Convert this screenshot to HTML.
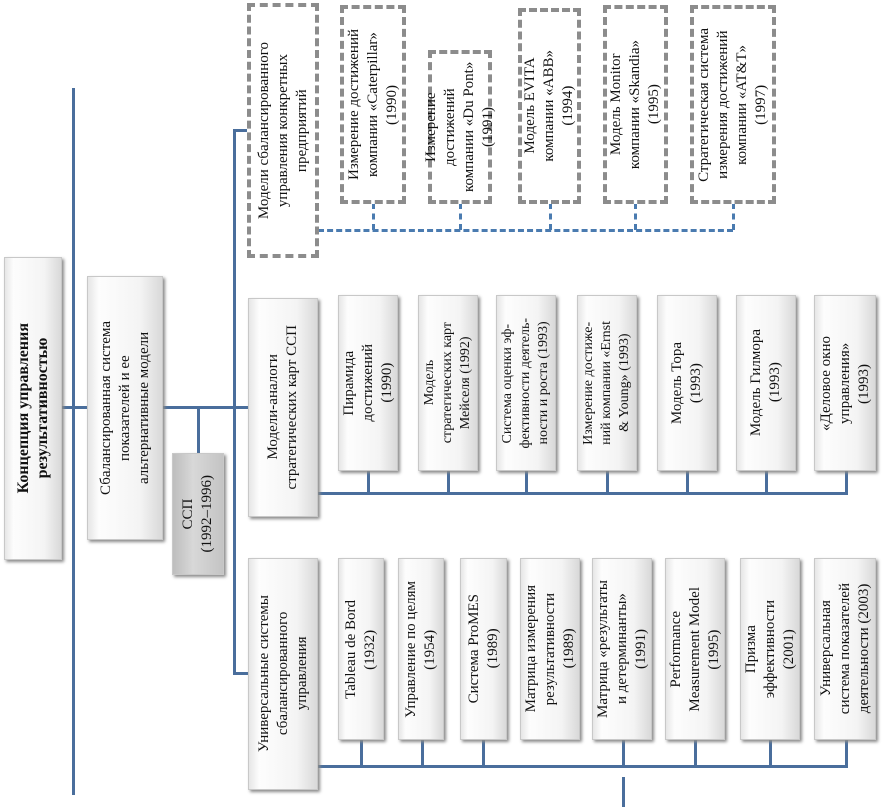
<!DOCTYPE html>
<html><head><meta charset="utf-8"><style>
body{margin:0;width:883px;height:809px;background:#fff;position:relative;overflow:hidden;font-family:"Liberation Serif","DejaVu Serif",serif;color:#111}
.b{position:absolute;box-sizing:border-box;background:linear-gradient(90deg,#e6e6e6 0%,#fdfdfd 15%,#f4f4f4 70%,#d9d9d9 100%);border:1px solid #c8c8c8;box-shadow:2px 2px 3px #8a8a8a;display:flex;align-items:center;justify-content:center}
.d{position:absolute;box-sizing:border-box;border:4px dashed #8c8c8c;background:#fff;display:flex;align-items:center;justify-content:center}
.t{writing-mode:vertical-rl;transform:rotate(180deg);text-align:center;font-size:15px;line-height:19px}
.h{position:absolute;background:#4a6e9c}
.dh{position:absolute;border-top:3px dashed #4a7bb0;height:0}
.dv{position:absolute;border-left:3px dashed #4a7bb0;width:0}
</style></head><body>
<!-- main lines -->
<div class="h" style="left:72px;top:88px;width:3px;height:707px"></div>
<div class="h" style="left:62px;top:406px;width:25px;height:3px"></div>
<div class="h" style="left:163px;top:406px;width:85px;height:3px"></div>
<div class="h" style="left:197px;top:406px;width:3px;height:48px"></div>
<div class="h" style="left:233px;top:129px;width:3px;height:546px"></div>
<div class="h" style="left:233px;top:129px;width:14px;height:3px"></div>
<div class="h" style="left:233px;top:672px;width:15px;height:3px"></div>
<div class="h" style="left:318px;top:492px;width:530px;height:3px"></div>
<div class="h" style="left:318px;top:765px;width:530px;height:3px"></div>
<div class="h" style="left:622px;top:777px;width:3px;height:30px"></div>
<!-- middle verticals -->
<div class="h" style="left:367px;top:470px;width:3px;height:24px"></div>
<div class="h" style="left:447px;top:470px;width:3px;height:24px"></div>
<div class="h" style="left:525px;top:470px;width:3px;height:24px"></div>
<div class="h" style="left:606px;top:470px;width:3px;height:24px"></div>
<div class="h" style="left:686px;top:470px;width:3px;height:24px"></div>
<div class="h" style="left:765px;top:470px;width:3px;height:24px"></div>
<div class="h" style="left:845px;top:470px;width:3px;height:24px"></div>
<!-- bottom verticals -->
<div class="h" style="left:360px;top:740px;width:3px;height:26px"></div>
<div class="h" style="left:421px;top:740px;width:3px;height:26px"></div>
<div class="h" style="left:482px;top:740px;width:3px;height:26px"></div>
<div class="h" style="left:622px;top:740px;width:3px;height:26px"></div>
<div class="h" style="left:694px;top:740px;width:3px;height:26px"></div>
<div class="h" style="left:769px;top:740px;width:3px;height:26px"></div>
<div class="h" style="left:845px;top:740px;width:3px;height:26px"></div>
<!-- dashed connectors -->
<div class="dh" style="left:318px;top:229px;width:415px"></div>
<div class="dv" style="left:372px;top:203px;height:27px"></div>
<div class="dv" style="left:459px;top:203px;height:27px"></div>
<div class="dv" style="left:549px;top:203px;height:27px"></div>
<div class="dv" style="left:634px;top:203px;height:27px"></div>
<div class="dv" style="left:732px;top:203px;height:27px"></div>

<div class="b" style="left:4px;top:257px;width:58px;height:303px"><div class="t" style="font-weight:bold;font-size:16px">Концепция управления<br>результативностью</div></div>
<div class="b" style="left:87px;top:276px;width:76px;height:264px"><div class="t">Сбалансированная система<br>показателей и ее<br>альтернативные модели</div></div>
<div class="b" style="left:172px;top:453px;width:52px;height:122px;background:linear-gradient(90deg,#bdbdbd,#d8d8d8 40%,#c4c4c4)"><div class="t">ССП<br>(1992–1996)</div></div>

<div class="d" style="left:247px;top:3px;width:72px;height:255px"><div class="t">Модели сбалансированного<br>управления конкретных<br>предприятий</div></div>
<div class="d" style="left:340px;top:5px;width:66px;height:199px"><div class="t">Измерение достижений<br>компании «Caterpillar»<br>(1990)</div></div>
<div class="d" style="left:428px;top:50px;width:64px;height:154px"><div class="t">Измерение достижений<br>компании «Du Pont»<br>(1991)</div></div>
<div class="d" style="left:518px;top:8px;width:63px;height:196px"><div class="t">Модель EVITA<br>компании «ABB»<br>(1994)</div></div>
<div class="d" style="left:603px;top:5px;width:65px;height:199px"><div class="t">Модель Monitor<br>компании «Skandia»<br>(1995)</div></div>
<div class="d" style="left:690px;top:5px;width:86px;height:199px"><div class="t">Стратегическая система<br>измерения достижений<br>компании «AT&amp;T»<br>(1997)</div></div>

<div class="b" style="left:248px;top:298px;width:70px;height:219px"><div class="t">Модели-аналоги<br>стратегических карт ССП</div></div>
<div class="b" style="left:338px;top:295px;width:60px;height:176px"><div class="t">Пирамида<br>достижений<br>(1990)</div></div>
<div class="b" style="left:418px;top:295px;width:60px;height:176px"><div class="t" style="font-size:14px;line-height:18px">Модель<br>стратегических карт<br>Мейселя (1992)</div></div>
<div class="b" style="left:496px;top:295px;width:60px;height:176px"><div class="t" style="font-size:14px;line-height:18px">Система оценки эф-<br>фективности деятель-<br>ности и роста (1993)</div></div>
<div class="b" style="left:577px;top:295px;width:60px;height:176px"><div class="t" style="font-size:14px;line-height:18px">Измерение достиже-<br>ний компании «Ernst<br>&amp; Young» (1993)</div></div>
<div class="b" style="left:657px;top:295px;width:60px;height:176px"><div class="t">Модель Тора<br>(1993)</div></div>
<div class="b" style="left:736px;top:295px;width:60px;height:176px"><div class="t">Модель Гилмора<br>(1993)</div></div>
<div class="b" style="left:814px;top:295px;width:62px;height:176px"><div class="t">«Деловое окно<br>управления»<br>(1993)</div></div>

<div class="b" style="left:248px;top:558px;width:70px;height:232px"><div class="t">Универсальные системы<br>сбалансированного<br>управления</div></div>
<div class="b" style="left:338px;top:558px;width:46px;height:182px"><div class="t">Tableau de Bord<br>(1932)</div></div>
<div class="b" style="left:398px;top:558px;width:46px;height:182px"><div class="t">Управление по целям<br>(1954)</div></div>
<div class="b" style="left:460px;top:558px;width:47px;height:182px"><div class="t">Система ProMES<br>(1989)</div></div>
<div class="b" style="left:520px;top:558px;width:60px;height:182px"><div class="t">Матрица измерения<br>результативности<br>(1989)</div></div>
<div class="b" style="left:592px;top:558px;width:60px;height:182px"><div class="t">Матрица «результаты<br>и детерминанты»<br>(1991)</div></div>
<div class="b" style="left:665px;top:558px;width:60px;height:182px"><div class="t">Performance<br>Measurement Model<br>(1995)</div></div>
<div class="b" style="left:740px;top:558px;width:60px;height:182px"><div class="t">Призма<br>эффективности<br>(2001)</div></div>
<div class="b" style="left:814px;top:558px;width:62px;height:182px"><div class="t">Универсальная<br>система показателей<br>деятельности (2003)</div></div>
</body></html>
